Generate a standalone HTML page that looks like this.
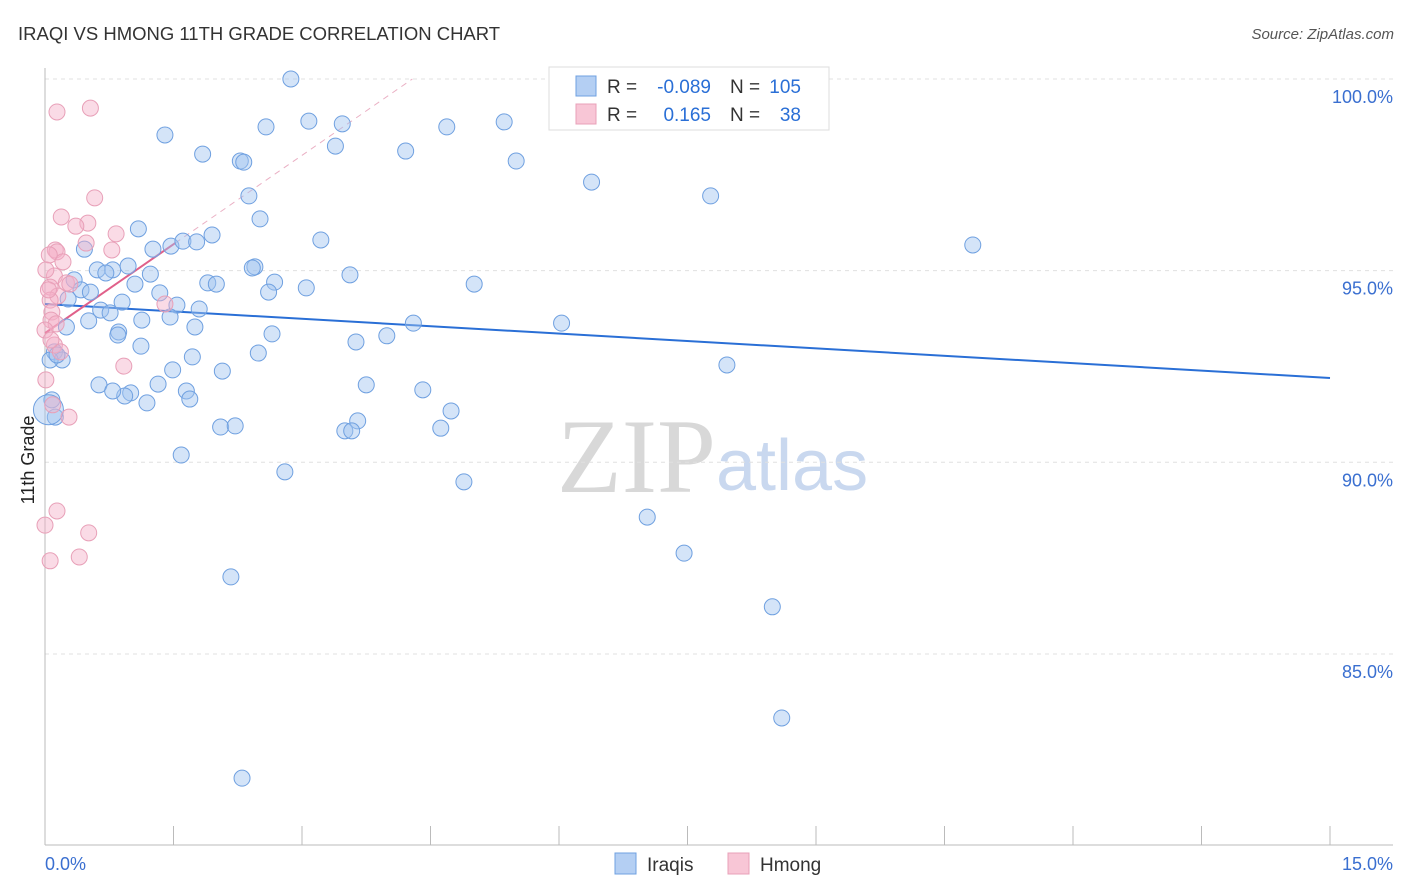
<!DOCTYPE html>
<html><head><meta charset="utf-8"><style>
body{margin:0;background:#fff;font-family:"Liberation Sans",sans-serif;}
svg{display:block}
</style></head><body>
<svg id="chart" width="1406" height="892">
<text x="18" y="40" font-size="18.5" fill="#333">IRAQI VS HMONG 11TH GRADE CORRELATION CHART</text>
<text x="1394" y="39" font-size="15" fill="#555" font-style="italic" text-anchor="end">Source: ZipAtlas.com</text>
<text x="716" y="492" font-size="106" fill="#d8d8d8" text-anchor="end" font-family="Liberation Serif, serif">ZIP</text>
<text x="716" y="490" font-size="72" fill="#c9d8ef">atlas</text>
<text x="34" y="460" font-size="18" fill="#222" transform="rotate(-90 34 460)" text-anchor="middle">11th Grade</text>
<g id="grid"></g><g id="axes"></g><g id="lines"></g><g id="pts"></g>
<g>
<rect x="549" y="67" width="280" height="63" fill="#fff" stroke="#ddd"/>
<rect x="576" y="76" width="20" height="20" fill="#b4cff3" stroke="#6fa0e0"/>
<rect x="576" y="104" width="20" height="20" fill="#f8c6d6" stroke="#e8a0b8"/>
<text x="607" y="93" font-size="19" fill="#333">R =</text>
<text x="711" y="93" font-size="19" fill="#2a6fd6" text-anchor="end">-0.089</text>
<text x="730" y="93" font-size="19" fill="#333">N =</text>
<text x="801" y="93" font-size="19" fill="#2a6fd6" text-anchor="end">105</text>
<text x="607" y="121" font-size="19" fill="#333">R =</text>
<text x="711" y="121" font-size="19" fill="#2a6fd6" text-anchor="end">0.165</text>
<text x="730" y="121" font-size="19" fill="#333">N =</text>
<text x="801" y="121" font-size="19" fill="#2a6fd6" text-anchor="end">38</text>
</g>
<g>
<rect x="615" y="853" width="21" height="21" fill="#b4cff3" stroke="#6fa0e0"/>
<text x="647" y="871" font-size="19" fill="#333">Iraqis</text>
<rect x="728" y="853" width="21" height="21" fill="#f8c6d6" stroke="#e8a0b8"/>
<text x="760" y="871" font-size="19" fill="#333">Hmong</text>
</g>
<text x="45" y="870" font-size="18" fill="#3a6fd0">0.0%</text>
<text x="1393" y="870" font-size="18" fill="#3a6fd0" text-anchor="end">15.0%</text>
</svg>
<script>
const blueX=[2.87,1.40,1.84,2.28,2.32,2.58,3.08,3.47,3.39,4.21,4.69,5.36,5.50,6.38,7.77,2.38,2.51,1.09,0.46,1.26,1.47,1.61,1.77,1.95,3.22,10.83,0.61,0.79,0.97,1.23,0.71,2.45,2.42,3.56,0.34,1.05,1.90,2.00,2.68,2.61,3.05,5.01,0.42,0.53,0.27,0.90,1.34,1.54,1.80,0.65,0.76,1.13,1.46,0.51,0.25,1.75,0.86,0.85,2.65,4.30,6.03,3.99,3.63,1.12,0.11,0.20,2.49,1.72,7.96,1.49,2.07,0.63,1.32,3.75,4.41,1.00,0.93,1.65,1.19,1.69,4.74,3.65,3.50,3.58,2.05,2.22,4.62,1.59,2.80,4.89,7.03,7.46,2.17,8.49,8.60,2.30,0.12,0.08,0.06,0.14,0.79];
const blueY=[100.0,98.54,98.04,97.86,97.83,98.75,98.90,98.83,98.25,98.12,98.75,98.88,97.86,97.31,96.95,96.95,96.35,96.09,95.56,95.56,95.64,95.77,95.75,95.93,95.80,95.67,95.02,95.02,95.12,94.91,94.94,95.10,95.07,94.89,94.76,94.65,94.68,94.65,94.70,94.44,94.55,94.65,94.50,94.44,94.26,94.18,94.42,94.10,94.00,93.97,93.90,93.71,93.79,93.69,93.53,93.53,93.40,93.32,93.35,93.63,93.63,93.30,93.14,93.03,92.88,92.67,92.85,92.75,92.54,92.41,92.38,92.02,92.04,92.02,91.89,91.81,91.73,91.86,91.55,91.65,91.34,91.08,90.82,90.82,90.92,90.95,90.89,90.19,89.75,89.49,88.57,87.63,87.01,86.23,83.33,81.76,91.18,91.63,92.67,92.80,91.86];
const blueBigX=[0.04];
const blueBigY=[91.37];
const pinkX=[0.14,0.53,0.58,0.19,0.50,0.36,0.83,0.48,0.12,0.14,0.05,0.21,0.78,0.11,0.25,0.29,0.06,0.15,0.06,0.08,0.07,0.13,0.0,0.11,0.18,0.92,0.01,0.09,0.28,0.14,0.51,0.40,0.06,0.0,1.40,0.04,0.07,0.01];
const pinkY=[99.14,99.24,96.90,96.40,96.24,96.16,95.96,95.72,95.54,95.49,95.41,95.23,95.54,94.86,94.68,94.65,94.57,94.34,94.23,93.92,93.71,93.61,93.45,93.06,92.88,92.51,92.15,91.50,91.18,88.73,88.16,87.53,87.43,88.36,94.13,94.50,93.19,95.02];
const blueTrend=[94.13,92.2];
const pinkTrend=[93.37,95.72];
const yTicks=[100,95,90,85];
const yTickLabels=["100.0%","95.0%","90.0%","85.0%"];
const xTicks=[0,1.5,3,4.5,6,7.5,9,10.5,12,13.5,15];

const NS="http://www.w3.org/2000/svg";
const X=v=>45+v*85.667, Y=v=>79+(100-v)*38.33;
function mk(tag,attrs,parent){const e=document.createElementNS(NS,tag);for(const k in attrs)e.setAttribute(k,attrs[k]);document.getElementById(parent).appendChild(e);return e;}
yTicks.forEach((t,i)=>{
 const l=mk('line',{x1:45,x2:1393,y1:Y(t),y2:Y(t),stroke:'#e0e0e0','stroke-dasharray':'4 4'},'grid');
 
 
 const tx=mk('text',{x:1393,y:Y(t)+24,'font-size':18,fill:'#3a6fd0','text-anchor':'end'},'grid');
 tx.textContent=yTickLabels[i];
 
 
});
const ya=mk('line',{x1:45,x2:45,y1:68,y2:845,stroke:'#bbb'},'axes');


const xa=mk('line',{x1:45,x2:1393,y1:845,y2:845,stroke:'#bbb'},'axes');


xTicks.forEach(t=>{
 const l=mk('line',{x1:X(t),x2:X(t),y1:826,y2:845,stroke:'#bbb'},'axes');
 
 
});
const bl=mk('line',{x1:X(0),y1:Y(blueTrend[0]),x2:X(15),y2:Y(blueTrend[1]),stroke:'#2a6fd6','stroke-width':2},'lines');


const slope=(pinkTrend[1]-pinkTrend[0])/1.52;
const xe=(100-pinkTrend[0])/slope;
const pd=mk('line',{x1:X(1.52),y1:Y(pinkTrend[1]),x2:X(xe),y2:Y(100),stroke:'#eab0c4','stroke-width':1,'stroke-dasharray':'6 5'},'lines');


const pl=mk('line',{x1:X(0),y1:Y(pinkTrend[0]),x2:X(1.52),y2:Y(pinkTrend[1]),stroke:'#e0608a','stroke-width':2},'lines');


blueX.forEach((x,i)=>{
 const c=mk('circle',{cx:X(x),cy:Y(blueY[i]),r:8,fill:'rgba(160,195,240,0.45)',stroke:'#6fa0e0','stroke-width':1},'pts');
 
 
});
blueBigX.forEach((x,i)=>{
 const c=mk('circle',{cx:X(x),cy:Y(blueBigY[i]),r:15,fill:'rgba(160,195,240,0.45)',stroke:'#6fa0e0','stroke-width':1},'pts');
 
 
});
pinkX.forEach((x,i)=>{
 const c=mk('circle',{cx:X(x),cy:Y(pinkY[i]),r:8,fill:'rgba(245,175,200,0.45)',stroke:'#e8a0b8','stroke-width':1},'pts');
 
 
});
</script>
</body></html>
